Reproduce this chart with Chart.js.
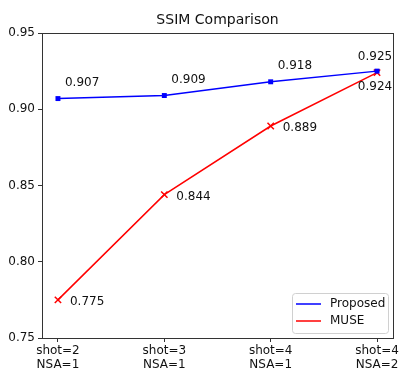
<!DOCTYPE html>
<html>
<head>
<meta charset="utf-8">
<script src="https://cdn.jsdelivr.net/npm/chart.js@4"></script>
<style>
  html, body { margin: 0; padding: 0; background: #fff; }
  #wrap { width: 408px; height: 382px; }
</style>
</head>
<body>
<div id="wrap"><canvas id="c"></canvas></div>
<script>
// 数据
const CATEGORIES = [['shot=2', 'NSA=1'], ['shot=3', 'NSA=1'], ['shot=4', 'NSA=1'], ['shot=4', 'NSA=2']];
const PROPOSED = [0.907, 0.909, 0.918, 0.925];
const MUSE = [0.775, 0.844, 0.889, 0.924];
const Y_TICKS = [0.75, 0.80, 0.85, 0.90, 0.95];
const TITLE = 'SSIM Comparison';

const FONT = "'DejaVu Sans', sans-serif";

// 标题（按绘图区居中）+ 数值标注 + 外框 + 图例
const extras = {
  id: 'extras',
  afterDatasetsDraw(chart) {
    const ctx = chart.ctx, a = chart.chartArea;
    const xs = chart.scales.x, ys = chart.scales.y;
    ctx.save();
    ctx.fillStyle = '#111';
    ctx.font = '14px ' + FONT;
    ctx.textAlign = 'center'; ctx.textBaseline = 'middle';
    ctx.fillText(TITLE, (a.left + a.right) / 2, 20);

    ctx.font = '12px ' + FONT;
    PROPOSED.forEach((v, i) => {
      const px = xs.getPixelForValue(i), py = ys.getPixelForValue(v);
      if (i === PROPOSED.length - 1) {
        ctx.textAlign = 'center'; ctx.textBaseline = 'middle';
        ctx.fillText(v.toFixed(3), px - 2, py - 14);
      } else {
        ctx.textAlign = 'left'; ctx.textBaseline = 'middle';
        ctx.fillText(v.toFixed(3), px + 7, py - 16);
      }
    });
    MUSE.forEach((v, i) => {
      const px = xs.getPixelForValue(i), py = ys.getPixelForValue(v);
      if (i === MUSE.length - 1) {
        ctx.textAlign = 'center'; ctx.textBaseline = 'middle';
        ctx.fillText(v.toFixed(3), px - 2, py + 14);
      } else {
        ctx.textAlign = 'left'; ctx.textBaseline = 'middle';
        ctx.fillText(v.toFixed(3), px + 12, py + 2);
      }
    });
    // 外框
    ctx.strokeStyle = '#333';
    ctx.lineWidth = 1;
    ctx.strokeRect(Math.round(a.left) + 0.5, Math.round(a.top) + 0.5,
                   Math.round(a.right - a.left), Math.round(a.bottom - a.top));
    // 图例
    const lx = a.right - 101, ly = a.bottom - 45, lw = 96, lh = 40;
    ctx.fillStyle = 'rgba(255,255,255,0.8)';
    ctx.strokeStyle = '#d0d0d0';
    ctx.beginPath();
    ctx.roundRect(lx + 0.5, ly + 0.5, lw, lh, 3);
    ctx.fill(); ctx.stroke();
    const items = [['Proposed', '#0000ff'], ['MUSE', '#ff0000']];
    items.forEach(([name, col], k) => {
      const yy = ly + 11 + k * 17;
      ctx.strokeStyle = col; ctx.lineWidth = 1.5;
      ctx.beginPath(); ctx.moveTo(lx + 4, yy); ctx.lineTo(lx + 29, yy); ctx.stroke();
      ctx.fillStyle = '#111';
      ctx.textAlign = 'left'; ctx.textBaseline = 'middle';
      ctx.fillText(name, lx + 38, yy);
    });
    ctx.restore();
  }
};

new Chart(document.getElementById('c'), {
  type: 'line',
  data: {
    datasets: [{
      label: 'Proposed',
      data: PROPOSED.map((v, i) => ({x: i, y: v})),
      borderColor: '#0000ff',
      backgroundColor: '#0000ff',
      borderWidth: 1.5,
      pointStyle: 'rect',
      pointRadius: 3.5,
      pointBorderWidth: 0,
      tension: 0
    }, {
      label: 'MUSE',
      data: MUSE.map((v, i) => ({x: i, y: v})),
      borderColor: '#ff0000',
      backgroundColor: '#ff0000',
      borderWidth: 1.5,
      pointStyle: 'crossRot',
      pointRadius: 4.5,
      pointBorderWidth: 1.5,
      tension: 0
    }]
  },
  options: {
    responsive: true,
    maintainAspectRatio: false,
    animation: false,
    layout: {padding: {left: 0, right: 15, top: 33, bottom: 0}},
    plugins: {
      legend: {display: false},
      tooltip: {enabled: false},
      title: {display: false}
    },
    scales: {
      x: {
        type: 'linear',
        min: -0.15,
        max: CATEGORIES.length - 1 + 0.15,
        afterBuildTicks: s => { s.ticks = CATEGORIES.map((_, i) => ({value: i})); },
        afterFit: s => { s.height = 44; },
        grid: {drawOnChartArea: false, tickLength: 4, color: '#333', tickColor: '#333'},
        border: {display: false},
        ticks: {
          callback: v => CATEGORIES[v],
          color: '#111',
          padding: 2,
          maxRotation: 0,
          font: {family: FONT, size: 12, lineHeight: 1.15}
        }
      },
      y: {
        min: 0.75,
        max: 0.95,
        afterBuildTicks: s => { s.ticks = Y_TICKS.map(v => ({value: v})); },
        afterFit: s => { s.width = 42; },
        grid: {drawOnChartArea: false, tickLength: 4, color: '#333', tickColor: '#333'},
        border: {display: false},
        ticks: {
          callback: v => v.toFixed(2),
          color: '#111',
          padding: 3,
          font: {family: FONT, size: 12}
        }
      }
    }
  },
  plugins: [extras]
});
</script>
</body>
</html>
